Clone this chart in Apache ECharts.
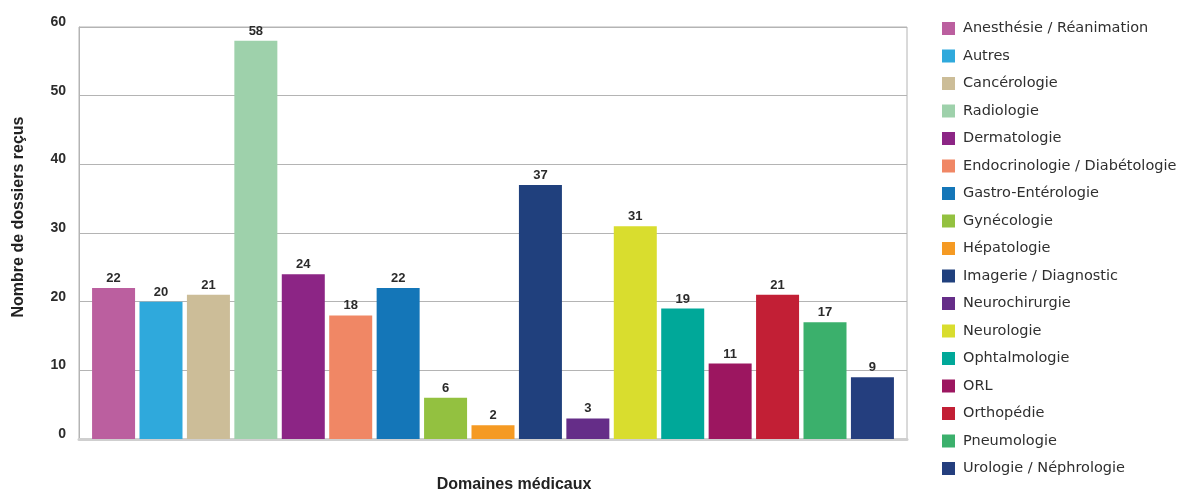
<!DOCTYPE html>
<html>
<head>
<meta charset="utf-8">
<script src="https://cdn.jsdelivr.net/npm/echarts@6/dist/echarts.min.js"></script>
<style>
  html, body { margin: 0; padding: 0; background: #fff; }
  #chart { width: 1180px; height: 492px; }
</style>
</head>
<body>
<div id="chart"></div>
<script>
// Dossiers reçus par domaine médical
const domaines = [
  'Anesthésie / Réanimation', 'Autres', 'Cancérologie', 'Radiologie', 'Dermatologie',
  'Endocrinologie / Diabétologie', 'Gastro-Entérologie', 'Gynécologie', 'Hépatologie',
  'Imagerie / Diagnostic', 'Neurochirurgie', 'Neurologie', 'Ophtalmologie', 'ORL',
  'Orthopédie', 'Pneumologie', 'Urologie / Néphrologie'
];
const dossiers = [22, 20, 21, 58, 24, 18, 22, 6, 2, 37, 3, 31, 19, 11, 21, 17, 9];
const couleurs = [
  '#bb5f9f', '#2fa9dc', '#ccbd98', '#9ed1ab', '#8c2585', '#f08765', '#1476b8',
  '#93c140', '#f59a23', '#20407d', '#652d88', '#d9dd2e', '#00a899', '#9c1660',
  '#c21f35', '#3bb06c', '#243e7e'
];
const yTicks = [0, 10, 20, 30, 40, 50, 60];
const xTitre = 'Domaines médicaux';
const yTitre = 'Nombre de dossiers reçus';

const chart = echarts.init(document.getElementById('chart'), null, { renderer: 'canvas' });

const series = domaines.map((nom, i) => ({
  name: nom,
  type: 'bar',
  data: [dossiers[i]],
  barWidth: 43,
  barGap: '10.3%',
  itemStyle: { color: couleurs[i] },
  label: {
    show: true,
    position: 'top',
    distance: 3,
    color: '#2b2b2b',
    fontFamily: 'Liberation Sans',
    fontWeight: 'bold',
    fontSize: 13
  }
}));

chart.setOption({
  animation: false,
  textStyle: { fontFamily: 'Liberation Sans' },
  title: {
    text: xTitre,
    left: 509,
    top: 472,
    textAlign: 'center',
    textStyle: { fontSize: 16, fontWeight: 'bold', color: '#222', fontFamily: 'Liberation Sans' }
  },
  graphic: [{
    type: 'text',
    x: 19,
    y: 217,
    rotation: Math.PI / 2,
    style: {
      text: yTitre,
      fill: '#222',
      font: 'bold 16px "Liberation Sans"',
      textAlign: 'center',
      textVerticalAlign: 'middle'
    }
  }],
  grid: {
    left: 79, right: 273, top: 27, bottom: 53,
    show: true, borderColor: '#b4b4b4', borderWidth: 1, backgroundColor: 'transparent'
  },
  legend: {
    orient: 'vertical',
    left: 942,
    top: 21,
    padding: 0,
    itemWidth: 13,
    itemHeight: 13,
    itemGap: 12.5,
    icon: 'rect',
    textStyle: { fontSize: 14.5, color: '#2f2f2f', fontFamily: 'DejaVu Sans', padding: [0, 0, 0, 3] },
    data: domaines
  },
  xAxis: {
    type: 'category',
    data: [xTitre],
    axisLabel: { show: false },
    axisTick: { show: false },
    axisLine: { lineStyle: { color: '#cfcfcf', width: 3 } }
  },
  yAxis: {
    type: 'value',
    min: yTicks[0],
    max: yTicks[yTicks.length - 1],
    interval: 10,
    axisLine: { show: true, lineStyle: { color: '#b4b4b4' } },
    axisTick: { show: false },
    axisLabel: {
      margin: 13,
      color: '#2b2b2b',
      fontSize: 14,
      fontWeight: 'bold',
      fontFamily: 'Liberation Sans',
      verticalAlign: 'bottom',
      lineHeight: 10
    },
    splitLine: { lineStyle: { color: '#b4b4b4' } }
  },
  series: series
});
</script>
</body>
</html>
